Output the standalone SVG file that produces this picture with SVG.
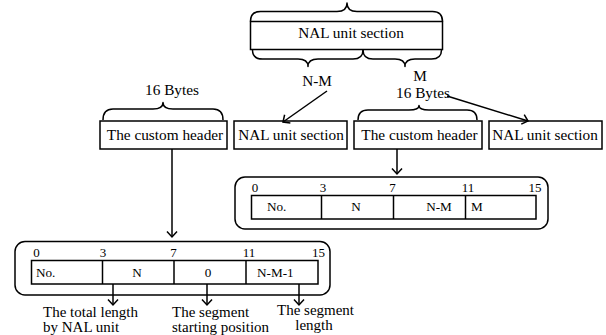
<svg xmlns="http://www.w3.org/2000/svg" width="606" height="335" viewBox="0 0 606 335">
  <style>
    .box { fill: #fff; stroke: #000; stroke-width: 1.5; }
    .panel { fill: none; stroke: #000; stroke-width: 1.5; }
    .brace { fill: none; stroke: #000; stroke-width: 1.5; stroke-linejoin: round; }
    .wire { fill: none; stroke: #000; stroke-width: 1.5; marker-end: url(#arrow); }
    text { font-family: "Liberation Serif", "Times New Roman", serif; fill: #000; }
    .lbl { font-size: 15.3px; }
    .note { font-size: 15px; }
    .mid { text-anchor: middle; }
    .idx { font-size: 13px; }
    .cell { font-size: 13.2px; }
  </style>
  <defs>
    <marker id="arrow" viewBox="-7 -7 14 14" markerWidth="14" markerHeight="14" refX="0" refY="0" orient="auto" markerUnits="userSpaceOnUse">
      <path d="M-5.5,-5 L0,0 L-5.5,5" fill="none" stroke="#000" stroke-width="1.5"/>
    </marker>
  </defs>

  <!-- whole NAL unit with its braces -->
  <g id="nal-unit">
    <path class="brace" d="M250.5,21.5 Q250.5,11.5 260.5,11.5 L337,11.5 Q347,11.5 347,3 Q347,11.5 357,11.5 L432.5,11.5 Q442.5,11.5 442.5,21.5"/>
    <rect class="box" x="250.5" y="21.5" width="192" height="28"/>
    <text class="lbl mid" x="351" y="37.5">NAL unit section</text>
    <path class="brace" d="M252.5,50 Q252.5,59 262.5,59 L298,59 Q308,59 308,66.5 Q308,59 318,59 L353,59 Q363,59 363,50"/>
    <path class="brace" d="M363,50 Q363,59 373,59 L395,59 Q405,59 405,66.5 Q405,59 415,59 L431.5,59 Q441.5,59 441.5,50"/>
    <text class="lbl mid" x="317" y="86">N-M</text>
    <text class="lbl mid" x="420" y="80.5">M</text>
  </g>

  <!-- first segment: header + payload -->
  <g id="header-left">
    <text class="lbl mid" x="172" y="95">16 Bytes</text>
    <path class="brace" d="M103,120 Q103,109 113,109 L153,109 Q163,109 163,102.5 Q163,109 173,109 L213,109 Q223,109 223,120"/>
    <rect class="box" x="100" y="121" width="127" height="28"/>
    <text class="lbl mid" x="165" y="140">The custom header</text>
  </g>
  <g id="nal-left">
    <rect class="box" x="234" y="121" width="113" height="28"/>
    <text class="lbl mid" x="291" y="140">NAL unit section</text>
  </g>

  <!-- second segment: header + payload -->
  <g id="header-right">
    <text class="lbl mid" x="423" y="97.5">16 Bytes</text>
    <path class="brace" d="M358,120 Q358,110 368,110 L409,110 Q419,110 419,105.5 Q419,110 429,110 L467,110 Q477,110 477,120"/>
    <rect class="box" x="354" y="121" width="128" height="28"/>
    <text class="lbl mid" x="419.5" y="140">The custom header</text>
  </g>
  <g id="nal-right">
    <rect class="box" x="489" y="121" width="113" height="28"/>
    <text class="lbl mid" x="545" y="140">NAL unit section</text>
  </g>

  <!-- header layout of the second segment -->
  <g id="layout-right">
    <rect class="panel" x="235" y="177" width="313" height="52" rx="10"/>
    <text class="idx mid" x="255" y="191.5">0</text>
    <text class="idx mid" x="323" y="191.5">3</text>
    <text class="idx mid" x="392.5" y="191.5">7</text>
    <text class="idx mid" x="468" y="191.5">11</text>
    <text class="idx mid" x="535" y="191.5">15</text>
    <rect class="box" x="251.5" y="195.5" width="284.5" height="23.5"/>
    <line class="panel" x1="321.5" y1="195.5" x2="321.5" y2="219"/>
    <line class="panel" x1="393.5" y1="195.5" x2="393.5" y2="219"/>
    <line class="panel" x1="465.5" y1="195.5" x2="465.5" y2="219"/>
    <text class="cell" x="267" y="211">No.</text>
    <text class="cell mid" x="356" y="211">N</text>
    <text class="cell mid" x="439" y="211">N-M</text>
    <text class="cell" x="471" y="211">M</text>
  </g>

  <!-- header layout of the first segment -->
  <g id="layout-left">
    <rect class="panel" x="15" y="241.5" width="315" height="53.5" rx="10"/>
    <text class="idx mid" x="36.5" y="257">0</text>
    <text class="idx mid" x="103" y="257">3</text>
    <text class="idx mid" x="173.5" y="257">7</text>
    <text class="idx mid" x="249" y="257">11</text>
    <text class="idx mid" x="318.5" y="257">15</text>
    <rect class="box" x="31.5" y="260.5" width="286.5" height="23.5"/>
    <line class="panel" x1="102.5" y1="260.5" x2="102.5" y2="284"/>
    <line class="panel" x1="174" y1="260.5" x2="174" y2="284"/>
    <line class="panel" x1="246" y1="260.5" x2="246" y2="284"/>
    <text class="cell" x="36" y="276.5">No.</text>
    <text class="cell mid" x="137" y="276.5">N</text>
    <text class="cell mid" x="208" y="276.5">0</text>
    <text class="cell" x="257" y="276.5">N-M-1</text>
  </g>

  <!-- field descriptions -->
  <g id="desc-total">
    <text class="note" x="43" y="317">The total length</text>
    <text class="note" x="43" y="331.5">by NAL unit</text>
  </g>
  <g id="desc-start">
    <text class="note" x="172" y="317">The segment</text>
    <text class="note" x="172" y="332">starting position</text>
  </g>
  <g id="desc-length">
    <text class="note mid" x="315.5" y="315">The segment</text>
    <text class="note mid" x="314" y="329.5">length</text>
  </g>

  <g id="connectors">
    <line class="wire" x1="327" y1="91" x2="283" y2="122"/>
    <line class="wire" x1="447" y1="96" x2="528" y2="121"/>
    <line class="wire" x1="172" y1="149" x2="172" y2="237"/>
    <line class="wire" x1="397" y1="149" x2="397" y2="174"/>
    <line class="wire" x1="113" y1="284" x2="113" y2="305"/>
    <line class="wire" x1="207" y1="284" x2="207" y2="305"/>
    <line class="wire" x1="299" y1="284" x2="299" y2="305"/>
  </g>
</svg>
